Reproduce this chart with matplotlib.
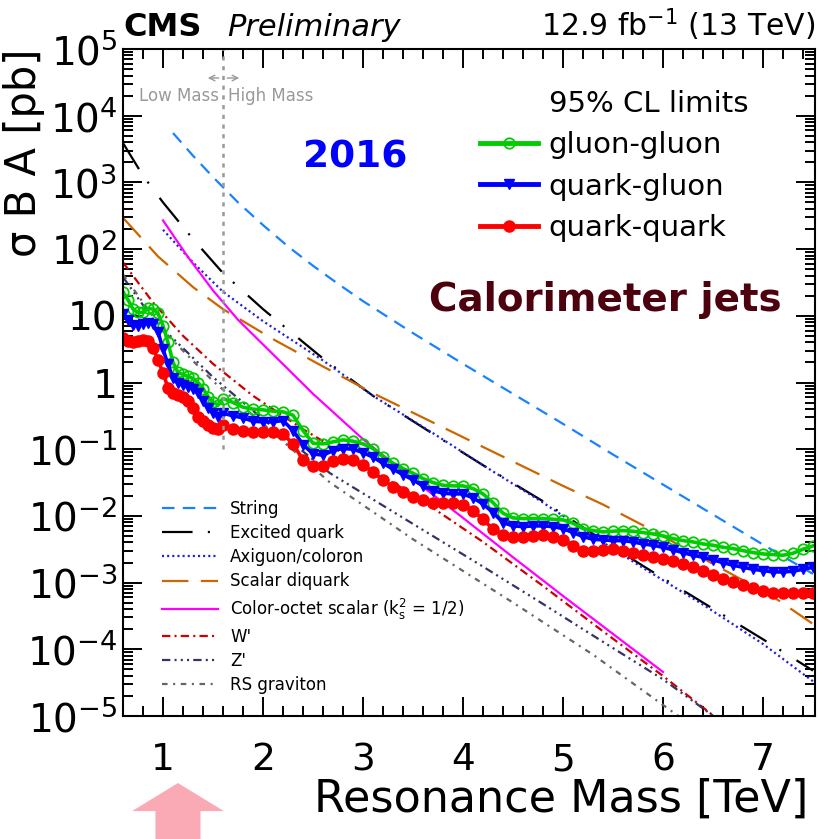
import numpy as np
import matplotlib
matplotlib.use('Agg')
import matplotlib.pyplot as plt
from matplotlib.lines import Line2D
from matplotlib.patches import FancyArrow
from matplotlib.ticker import FixedLocator, FixedFormatter, LogLocator, MultipleLocator, NullFormatter

plt.rcParams['font.family'] = 'DejaVu Sans'
plt.rcParams['mathtext.default'] = 'regular'
plt.rcParams['lines.scale_dashes'] = False

# mass points of the limits: low-mass scan in 50 GeV steps, high-mass in 100 GeV steps
mass = np.round(np.concatenate([np.arange(0.60, 1.56, 0.05), np.arange(1.6, 7.51, 0.1)]), 2)

# 95% CL limits, log10(sigma B A / pb)
gg_log10 = [1.36, 1.24, 1.10, 1.05, 1.05, 1.11, 1.10, 1.04, 0.85, 0.60,
            0.30, 0.15, 0.12, 0.09, 0.06, 0.00, -0.09, -0.21, -0.29, -0.34,
            -0.24, -0.30, -0.37, -0.40, -0.41, -0.43, -0.44, -0.49, -0.72, -0.91,
            -0.92, -0.89, -0.86, -0.88, -0.92, -0.99, -1.11, -1.21, -1.29, -1.36,
            -1.44, -1.50, -1.54, -1.55, -1.55, -1.59, -1.67, -1.80, -1.96, -2.03,
            -2.04, -2.04, -2.04, -2.05, -2.06, -2.11, -2.19, -2.22, -2.24, -2.23,
            -2.22, -2.23, -2.25, -2.27, -2.30, -2.34, -2.37, -2.39, -2.42, -2.44,
            -2.47, -2.49, -2.52, -2.55, -2.57, -2.58, -2.59, -2.56, -2.50, -2.45]
qg_log10 = [1.03, 0.94, 0.86, 0.85, 0.87, 0.89, 0.87, 0.76, 0.50, 0.27,
            0.07, -0.01, -0.04, -0.06, -0.10, -0.16, -0.27, -0.38, -0.45, -0.51,
            -0.46, -0.50, -0.53, -0.58, -0.59, -0.59, -0.57, -0.72, -0.93, -1.07,
            -1.09, -1.02, -0.99, -1.00, -1.05, -1.12, -1.21, -1.30, -1.38, -1.46,
            -1.55, -1.62, -1.66, -1.67, -1.67, -1.73, -1.82, -1.95, -2.10, -2.15,
            -2.16, -2.15, -2.15, -2.16, -2.19, -2.25, -2.31, -2.35, -2.36, -2.37,
            -2.37, -2.39, -2.42, -2.44, -2.47, -2.51, -2.55, -2.59, -2.62, -2.66,
            -2.70, -2.74, -2.77, -2.80, -2.82, -2.84, -2.84, -2.83, -2.80, -2.77]
qq_log10 = [0.66, 0.62, 0.60, 0.62, 0.64, 0.62, 0.52, 0.34, 0.14, -0.08,
            -0.15, -0.19, -0.21, -0.27, -0.38, -0.51, -0.58, -0.63, -0.68, -0.70,
            -0.64, -0.70, -0.73, -0.74, -0.74, -0.74, -0.77, -0.92, -1.16, -1.25,
            -1.25, -1.18, -1.14, -1.16, -1.24, -1.34, -1.46, -1.56, -1.64, -1.71,
            -1.76, -1.80, -1.81, -1.81, -1.83, -1.92, -2.05, -2.20, -2.29, -2.31,
            -2.31, -2.30, -2.29, -2.31, -2.36, -2.45, -2.53, -2.53, -2.51, -2.50,
            -2.52, -2.55, -2.58, -2.61, -2.65, -2.68, -2.72, -2.77, -2.82, -2.88,
            -2.94, -2.99, -3.04, -3.08, -3.12, -3.15, -3.16, -3.16, -3.16, -3.16]

# model predictions, log10(sigma B A / pb)
string_m = [1.1, 1.3, 1.5, 1.75, 2.0, 2.25, 2.5, 2.75, 3.0, 3.5, 4.0, 4.5, 5.0, 5.5, 6.0, 6.5, 7.0, 7.5]
string_log10 = [3.74, 3.40, 3.08, 2.70, 2.36, 2.04, 1.75, 1.48, 1.22, 0.74, 0.28, -0.17, -0.62,
                -1.08, -1.53, -1.98, -2.43, -2.87]
qstar_m = [0.6, 0.8, 1.0, 1.3, 1.6, 2.0, 2.6, 3.1, 3.7, 4.2, 4.8, 5.3, 5.8, 6.4, 7.0, 7.5]
qstar_log10 = [3.59, 3.10, 2.70, 2.15, 1.64, 1.10, 0.36, -0.20, -0.77, -1.24, -1.78, -2.27, -2.75, -3.30, -3.85, -4.32]
axi_m = [1.0, 1.3, 1.6, 2.0, 2.6, 3.1, 3.7, 4.2, 4.8, 5.3, 5.8, 6.4, 7.0, 7.5]
axi_log10 = [2.29, 1.80, 1.36, 0.92, 0.33, -0.20, -0.76, -1.24, -1.80, -2.30, -2.78, -3.33, -3.92, -4.48]
diquark_m = [0.6, 0.95, 1.3, 1.6, 2.1, 2.6, 3.1, 4.0, 5.0, 5.4, 5.85, 6.5, 7.1, 7.5]
diquark_log10 = [2.47, 1.89, 1.43, 1.10, 0.65, 0.24, -0.16, -0.82, -1.55, -1.83, -2.18, -2.72, -3.21, -3.62]
octet_m = [1.0, 1.25, 1.5, 1.75, 2.0, 2.5, 3.0, 3.5, 4.0, 4.5, 5.0, 5.5, 6.0]
octet_log10 = [2.43, 1.88, 1.38, 0.94, 0.57, -0.17, -0.85, -1.45, -2.03, -2.62, -3.20, -3.77, -4.34]
wprime_m = [0.6, 0.9, 1.2, 1.5, 1.9, 2.4, 2.9, 3.5, 4.2, 4.8, 5.4, 6.0, 6.55]
wprime_log10 = [1.80, 1.20, 0.70, 0.28, -0.20, -0.70, -1.15, -1.68, -2.39, -3.05, -3.73, -4.40, -5.05]
zprime_m = [0.6, 0.9, 1.5, 2.0, 2.67, 3.5, 4.2, 4.8, 5.37, 6.0, 6.55]
zprime_log10 = [1.58, 0.95, 0.08, -0.55, -1.36, -2.12, -2.76, -3.32, -3.86, -4.45, -5.05]
rsg_m = [0.6, 1.0, 1.5, 2.0, 2.67, 3.5, 4.5, 5.3, 6.2]
rsg_log10 = [1.62, 0.78, 0.02, -0.62, -1.50, -2.35, -3.30, -4.08, -5.05]

models = [
    ('String', string_m, string_log10, '#1a82ff', (9, 6)),
    ('Excited quark', qstar_m, qstar_log10, 'black', (22, 11, 1.5, 13)),
    ('Axiguon/coloron', axi_m, axi_log10, '#1f1fdd', (1.5, 2.2)),
    ('Scalar diquark', diquark_m, diquark_log10, '#cc6600', (19, 9)),
    ('Color-octet scalar ($k_s^2$ = 1/2)', octet_m, octet_log10, '#ff00ff', None),
    ("W'", wprime_m, wprime_log10, '#cc0000', (6, 3, 1.5, 3)),
    ("Z'", zprime_m, zprime_log10, '#333366', (6, 3, 1.5, 3, 1.5, 3, 1.5, 3)),
    ('RS graviton', rsg_m, rsg_log10, '#666666', (4, 4, 1.5, 4)),
]

fig = plt.figure(figsize=(8.19, 8.39), dpi=100)
ax = fig.add_axes([0.1502, 0.1466, 0.8449, 0.795])
ax.set_yscale('log')

model_lines = []
for label, m, lg, color, dash in models:
    line, = ax.plot(m, 10 ** np.array(lg), color=color, lw=1.6, label=label)
    if dash is not None:
        line.set_dashes(dash)
    model_lines.append(line)

gg, = ax.plot(mass, 10 ** np.array(gg_log10), color='#00cc00', lw=2.6, marker='o',
              ms=7.5, mfc='none', mec='#00cc00', mew=1.3)
qg, = ax.plot(mass, 10 ** np.array(qg_log10), color='#0000ff', lw=2.6, marker='v',
              ms=7.5, mfc='#0000ff', mec='#0000ff')
qq, = ax.plot(mass, 10 ** np.array(qq_log10), color='#ff0000', lw=2.6, marker='o',
              ms=8, mfc='#ff0000', mec='#ff0000')

# boundary between the low-mass and high-mass searches
ax.vlines(1.6, 0.1, 1e5, colors='#999999', linestyles=(0, (3, 4)), lw=1.8)
ax.text(1.555, 10 ** 4.295, 'Low Mass', ha='right', va='center', color='#999999', fontsize=12)
ax.text(1.645, 10 ** 4.295, 'High Mass', ha='left', va='center', color='#999999', fontsize=12)
ax.annotate('', xy=(1.42, 10 ** 4.565), xytext=(1.585, 10 ** 4.565),
            arrowprops=dict(arrowstyle='->', color='#999999', lw=1))
ax.annotate('', xy=(1.79, 10 ** 4.565), xytext=(1.615, 10 ** 4.565),
            arrowprops=dict(arrowstyle='->', color='#999999', lw=1))

ax.set_xlim(0.6, 7.52)
ax.set_ylim(1e-5, 1e5)

yt = [10.0 ** k for k in range(-5, 6)]
ylabels = ['$10^{%d}$' % k for k in range(-5, 0)] + ['1', '10'] + ['$10^{%d}$' % k for k in range(2, 6)]
ax.yaxis.set_major_locator(FixedLocator(yt))
ax.yaxis.set_major_formatter(FixedFormatter(ylabels))
ax.yaxis.set_minor_locator(LogLocator(base=10, subs=np.arange(2, 10), numticks=100))
ax.yaxis.set_minor_formatter(NullFormatter())
ax.xaxis.set_major_locator(FixedLocator([1, 2, 3, 4, 5, 6, 7]))
ax.xaxis.set_minor_locator(MultipleLocator(0.2))

ax.tick_params(which='both', direction='in', top=True, right=True, width=1.4)
ax.tick_params(which='major', length=14)
ax.tick_params(which='minor', length=7)
ax.tick_params(axis='x', which='major', labelsize=27, pad=19)
ax.tick_params(axis='y', which='major', labelsize=28, pad=4)
for s in ax.spines.values():
    s.set_linewidth(1.5)

ax.set_xlabel('Resonance Mass [TeV]', fontsize=32, ha='right')
ax.xaxis.set_label_coords(0.99, -0.092)
ax.set_ylabel('σ B A [pb]', fontsize=30, ha='right')
ax.yaxis.set_label_coords(-0.113, 1.0)

# limit legend (top right)
blank = Line2D([], [], linestyle='none')
leg1 = ax.legend([blank, gg, qg, qq], ['95% CL limits', 'gluon-gluon', 'quark-gluon', 'quark-quark'],
                 loc='upper left', bbox_to_anchor=(0.516, 0.938), frameon=False, fontsize=21,
                 numpoints=1, handlelength=2.0, handletextpad=0.35, labelspacing=0.45,
                 borderpad=0, borderaxespad=0)
for h in leg1.get_lines():
    h.set_linewidth(3.5)
ax.add_artist(leg1)

# model legend (bottom left)
ax.legend(model_lines, [m[0] for m in models], loc='upper left', bbox_to_anchor=(0.0564, 0.324),
          frameon=False, fontsize=12, handlelength=3.36, handletextpad=0.72, labelspacing=0.37,
          borderpad=0, borderaxespad=0)

ax.text(0.335, 0.838, '2016', transform=ax.transAxes, ha='center', va='center',
        color='#0000ff', fontsize=27, fontweight='bold')
ax.text(0.6965, 0.624, 'Calorimeter jets', transform=ax.transAxes, ha='center', va='center',
        color='#4d000d', fontsize=28, fontweight='bold')

fig.text(0.151, 0.957, 'CMS', fontsize=23, fontweight='bold', va='baseline')
fig.text(0.278, 0.957, 'Preliminary', fontsize=22, fontstyle='italic', va='baseline')
fig.text(0.995, 0.957, '12.9 fb$^{-1}$ (13 TeV)', fontsize=21.5, ha='right', va='baseline')

fig.add_artist(FancyArrow(0.2173, 0.0, 0, 0.0667, width=0.055, head_width=0.112,
                          head_length=0.0334, length_includes_head=True,
                          color='#f9aab4', lw=0, transform=fig.transFigure))

fig.savefig('out.png', dpi=100)
